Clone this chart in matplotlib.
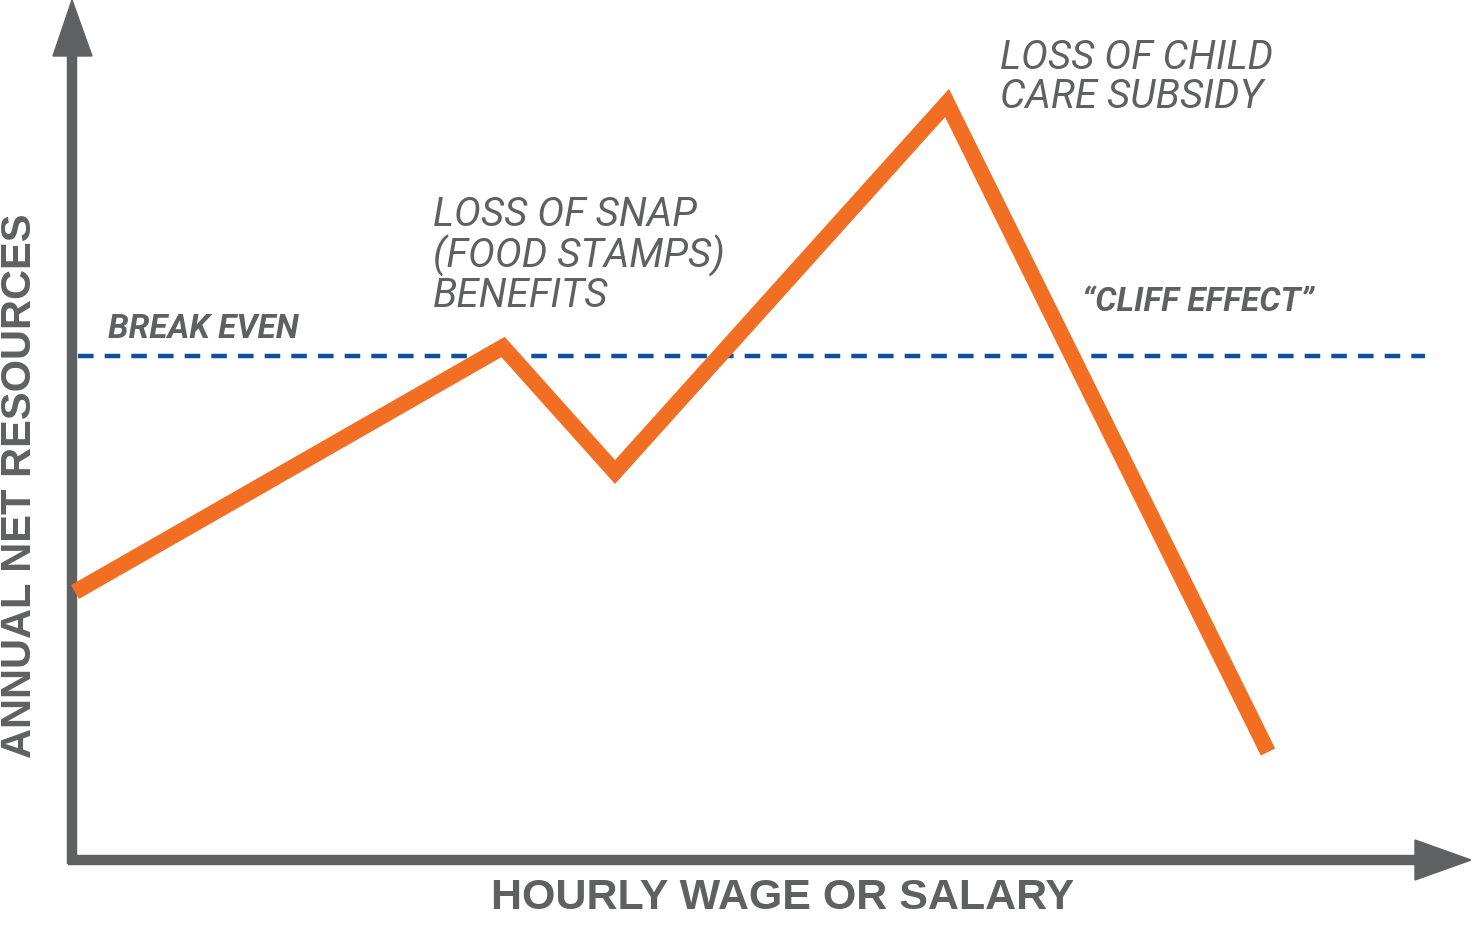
import matplotlib
matplotlib.use("Agg")
import matplotlib.pyplot as plt
from matplotlib.patches import Polygon

# conceptual data (x, y) in chart units
wage = [75, 503, 615, 947, 1268]
resources = [354, 599, 474, 843, 194]
break_even = 590
annotations = [
    ("LOSS OF SNAP\n(FOOD STAMPS)\nBENEFITS", 433, 750),
    ("LOSS OF CHILD\nCARE SUBSIDY", 1000, 907),
]

GRAY = "#5f6062"
ORANGE = "#F26E22"
BLUE = "#0F4FA0"

fig = plt.figure(figsize=(14.71, 9.46), dpi=100)
ax = fig.add_axes([0, 0, 1, 1])
ax.set_xlim(0, 1471)
ax.set_ylim(0, 946)
ax.axis("off")

# axes lines
ax.plot([72, 72], [82, 890], color=GRAY, lw=7.5, solid_capstyle="butt")
ax.plot([68, 1420], [86, 86], color=GRAY, lw=7.5, solid_capstyle="butt")
ax.add_patch(Polygon([[53, 890], [92, 890], [72, 946]], closed=True, color=GRAY))
ax.add_patch(Polygon([[1415, 66], [1415, 106], [1471, 86]], closed=True, color=GRAY))

# break even line
ax.plot([78, 1425], [break_even, break_even], color=BLUE, lw=3.2, dashes=(3.5, 2.5))

# net resources line
ax.plot(wage, resources, color=ORANGE, lw=11.5, solid_joinstyle="miter", solid_capstyle="butt")

for txt, x, y in annotations:
    ax.text(x, y, txt, fontsize=29, fontstyle="italic", fontfamily="Roboto",
            fontweight="normal", color=GRAY, va="top", ha="left", linespacing=1.0)

ax.text(108, 617, "BREAK EVEN", fontsize=24, fontstyle="italic", fontweight="bold",
        fontfamily="Roboto", color=GRAY, va="center", ha="left")
ax.text(1082, 644, "\u201cCLIFF EFFECT\u201d", fontsize=24, fontstyle="italic", fontweight="bold",
        fontfamily="Roboto", color=GRAY, va="center", ha="left")

ax.text(783, 48, "HOURLY WAGE OR SALARY", fontsize=31, fontweight="bold",
        fontfamily="Liberation Sans", color=GRAY, va="center", ha="center")
ax.text(20, 460, "ANNUAL NET RESOURCES", fontsize=30, fontweight="bold", rotation=90,
        fontfamily="Liberation Sans", color=GRAY, va="center", ha="center")

fig.savefig("out.png", dpi=100)
